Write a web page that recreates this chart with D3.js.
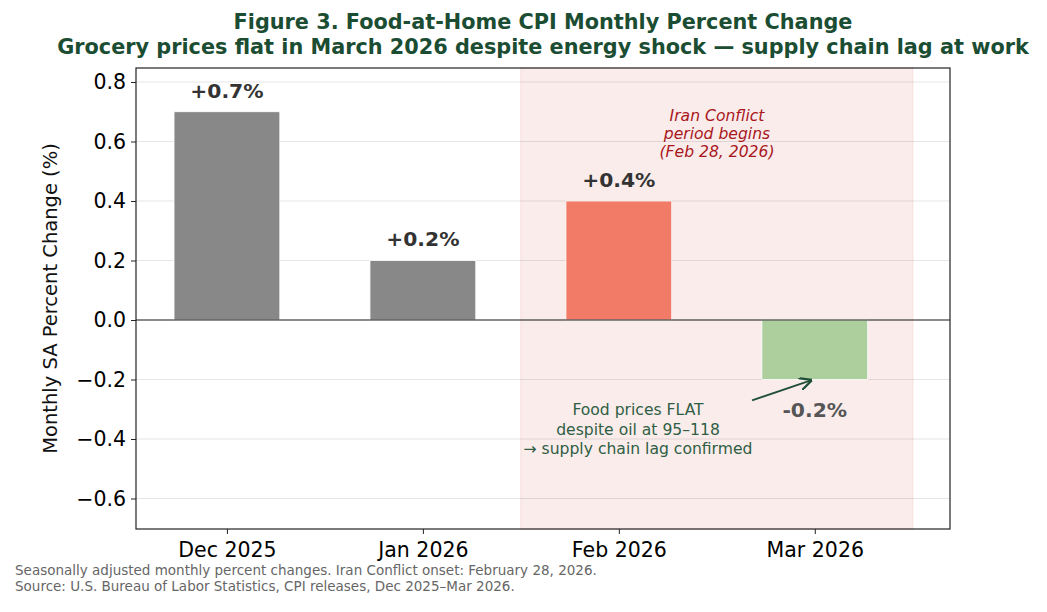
<!DOCTYPE html>
<html><head><meta charset="utf-8">
<script src="https://cdn.jsdelivr.net/npm/d3@7"></script>
<style>body{margin:0;background:#fff}svg{font-family:"DejaVu Sans",sans-serif}</style>
</head><body><svg id="c" width="1047" height="612"></svg>
<script>
const categories = ["Dec 2025","Jan 2026","Feb 2026","Mar 2026"];
const values = [0.7, 0.2, 0.4, -0.2];
const barColors = ["#888888","#888888","#f27b68","#accf9d"];
const valueLabels = ["+0.7%","+0.2%","+0.4%","-0.2%"];
const yTicks = [-0.6,-0.4,-0.2,0.0,0.2,0.4,0.6,0.8];
const conflictSpan = [1.5, 3.5];

const svg = d3.select("#c");
const L=136,R=950,T=68,B=529;
const x = d3.scaleLinear().domain([-0.464,3.69]).range([L,R]);
const y = d3.scaleLinear().domain([-0.7025,0.847]).range([B,T]);
const bw = 0.54;

svg.append("rect").attr("x",x(conflictSpan[0])).attr("y",T).attr("width",x(conflictSpan[1])-x(conflictSpan[0])).attr("height",B-T)
  .attr("fill","#faeceb").attr("stroke","#f6dedc").attr("stroke-width",1);

svg.append("g").selectAll("line").data(yTicks).join("line")
  .attr("x1",L).attr("x2",R).attr("y1",d=>y(d)).attr("y2",d=>y(d))
  .attr("stroke","#000").attr("stroke-opacity",0.1).attr("stroke-width",1);

svg.append("g").selectAll("rect").data(values).join("rect")
  .attr("x",(d,i)=>x(i-bw/2)).attr("width",x(bw)-x(0))
  .attr("y",d=>y(Math.max(0,d))).attr("height",d=>Math.abs(y(d)-y(0)))
  .attr("fill",(d,i)=>barColors[i]).attr("stroke","#fff").attr("stroke-width",0.8);

svg.append("line").attr("x1",L).attr("x2",R).attr("y1",y(0)).attr("y2",y(0)).attr("stroke","#222").attr("stroke-width",1.2);

svg.append("g").selectAll("text").data(values).join("text")
  .attr("x",(d,i)=>x(i)).attr("y",d=>d>=0? y(d)-14 : y(d)+38)
  .attr("text-anchor","middle").attr("font-size",20.3).attr("font-weight","bold")
  .attr("fill",(d)=>d>=0?"#333":"#555").text((d,i)=>valueLabels[i]);

const ya = d3.axisLeft(y).tickValues(yTicks).tickSize(5).tickPadding(5).tickFormat(d=>d<0? "\u2212"+Math.abs(d).toFixed(1) : d.toFixed(1));
const gy = svg.append("g").attr("transform",`translate(${L},0)`).call(ya);
gy.select(".domain").remove();
gy.selectAll("text").attr("font-size",20.5).attr("fill","#000").attr("font-family","DejaVu Sans");
gy.selectAll("line").attr("stroke","#222");
const xa = d3.axisBottom(x).tickValues([0,1,2,3]).tickSize(5).tickPadding(8).tickFormat(i=>categories[i]);
const gx = svg.append("g").attr("transform",`translate(0,${B})`).call(xa);
gx.select(".domain").remove();
gx.selectAll("text").attr("font-size",20.5).attr("fill","#000").attr("font-family","DejaVu Sans");
gx.selectAll("line").attr("stroke","#222");
svg.append("rect").attr("x",L).attr("y",T).attr("width",R-L).attr("height",B-T).attr("fill","none").attr("stroke","#222").attr("stroke-width",1.2);

svg.append("text").attr("transform",`translate(57,${(T+B)/2}) rotate(-90)`).attr("text-anchor","middle")
  .attr("font-size",19.5).attr("fill","#111").text("Monthly SA Percent Change (%)");

svg.append("text").attr("x",543).attr("y",29).attr("text-anchor","middle").attr("font-size",20.8).attr("font-weight","bold").attr("fill","#1b4d33")
  .text("Figure 3. Food-at-Home CPI Monthly Percent Change");
svg.append("text").attr("x",543).attr("y",54).attr("text-anchor","middle").attr("font-size",20.8).attr("font-weight","bold").attr("fill","#1b4d33")
  .text("Grocery prices flat in March 2026 despite energy shock \u2014 supply chain lag at work");

const iran = ["Iran Conflict","period begins","(Feb 28, 2026)"];
svg.append("g").selectAll("text").data(iran).join("text")
  .attr("x",717).attr("y",(d,i)=>121+i*18).attr("text-anchor","middle").attr("font-size",15.6).attr("font-style","italic").attr("fill","#a8171c").text(d=>d);

const food = ["Food prices FLAT","despite oil at 95\u2013118","\u2192 supply chain lag confirmed"];
svg.append("g").selectAll("text").data(food).join("text")
  .attr("x",638).attr("y",(d,i)=>415+i*19.5).attr("text-anchor","middle").attr("font-size",15.6).attr("fill","#2f5e44").text(d=>d);

svg.append("defs").append("marker").attr("id","ah").attr("viewBox","0 0 10 10").attr("refX",9).attr("refY",5)
  .attr("markerWidth",7).attr("markerHeight",7).attr("orient","auto")
  .append("path").attr("d","M0,0 L10,5 L0,10").attr("fill","none").attr("stroke","#1f4f36").attr("stroke-width",1.8);
svg.append("line").attr("x1",x(2.68)).attr("y1",y(-0.27)).attr("x2",x(2.98)).attr("y2",y(-0.203))
  .attr("stroke","#1f4f36").attr("stroke-width",1.8).attr("marker-end","url(#ah)");

svg.append("text").attr("x",15).attr("y",575).attr("font-size",13.5).attr("fill","#666").text("Seasonally adjusted monthly percent changes. Iran Conflict onset: February 28, 2026.");
svg.append("text").attr("x",15).attr("y",591).attr("font-size",13.5).attr("fill","#666").text("Source: U.S. Bureau of Labor Statistics, CPI releases, Dec 2025\u2013Mar 2026.");
</script></body></html>
